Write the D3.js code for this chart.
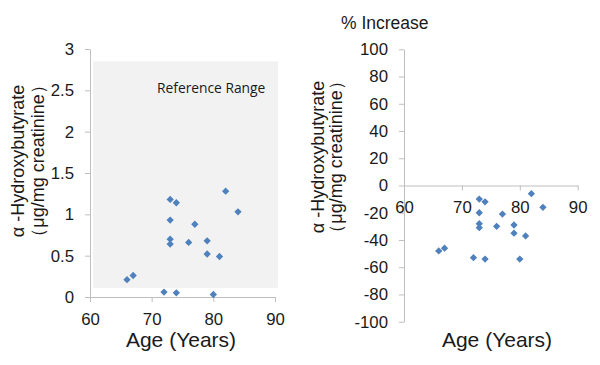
<!DOCTYPE html>
<meta charset="utf-8">
<head>
<style>
  body { margin: 0; background: white; }
  svg { display: block; font-family: "Liberation Sans", Arial, sans-serif; }
  .axis path, .axis line { stroke: #bfbfbf; }
  .axis text { fill: #1a1a1a; font-size: 16.8px; }
</style>
<script src="https://cdn.jsdelivr.net/npm/d3@7"></script>
</head>
<body>
<svg id="chart"></svg>
<script>

// ages of the subjects (same for both panels)
let ages = [66, 67, 72, 73, 73, 73, 73, 74, 74, 76, 77, 79, 79, 80, 81, 82, 84]
// left panel: alpha-hydroxybutyrate (ug/mg creatinine)
let levels = [0.21, 0.26, 0.06, 1.18, 0.93, 0.70, 0.64, 1.14, 0.05, 0.66, 0.88, 0.68, 0.52, 0.03, 0.49, 1.28, 1.03]
// right panel: % increase
let pctIncrease = [-48, -46, -53, -10, -20, -28, -31, -12, -54, -30, -21, -29, -35, -54, -37, -6, -16]

let xTicks = [60, 70, 80, 90]
let leftYTicks = [0, 0.5, 1, 1.5, 2, 2.5, 3]
let rightYTicks = [-100, -80, -60, -40, -20, 0, 20, 40, 60, 80, 100]
let refRange = {x0: 60.5, x1: 90.5, y0: 0.11, y1: 2.85}

let width = 600, height = 365
let svg = d3.select("#chart").attr("width", width).attr("height", height)

let diamond = d3.symbol().type(d3.symbolDiamond2).size(34)
let dotColor = "#4f81bd"

function yTitle(x1, x2, cy) {
  let g = svg.append("g").attr("font-size", 18).attr("fill", "#1a1a1a")
  g.append("text").attr("transform", `translate(${x1},${cy}) rotate(-90)`)
    .attr("text-anchor", "middle").text("α -Hydroxybutyrate")
  g.append("text").attr("transform", `translate(${x2},${cy}) rotate(-90)`)
    .attr("text-anchor", "middle").text("（μg/mg creatinine）")
}

function xTitle(cx) {
  svg.append("text").attr("x", cx).attr("y", 347)
    .attr("text-anchor", "middle").attr("font-size", 21).attr("fill", "#1a1a1a")
    .text("Age (Years)")
}

// ---- left panel ----
let xL = d3.scaleLinear().domain([60, 90]).range([90, 275])
let yL = d3.scaleLinear().domain([0, 3]).range([297, 49])

svg.append("rect")
  .attr("x", xL(refRange.x0)).attr("y", yL(refRange.y1))
  .attr("width", xL(refRange.x1) - xL(refRange.x0))
  .attr("height", yL(refRange.y0) - yL(refRange.y1))
  .attr("fill", "#f2f2f2")

svg.append("text").attr("x", 157).attr("y", 93)
  .attr("font-family", "Open Sans").attr("font-size", 13.8).attr("fill", "#1a1a1a")
  .text("Reference Range")

svg.append("g").attr("class", "axis")
  .attr("transform", `translate(0,${yL(0)})`)
  .call(d3.axisBottom(xL).tickValues(xTicks).tickSize(5).tickSizeOuter(0).tickPadding(11))

svg.append("g").attr("class", "axis")
  .attr("transform", `translate(${xL(60)},0)`)
  .call(d3.axisLeft(yL).tickValues(leftYTicks).tickSize(5).tickSizeOuter(0).tickPadding(11)
    .tickFormat(d3.format("~g")))

svg.append("g").selectAll("path")
  .data(ages.map((a, i) => [a, levels[i]]))
  .enter().append("path")
  .attr("d", diamond)
  .attr("transform", d => `translate(${xL(d[0])},${yL(d[1])})`)
  .attr("fill", dotColor)

yTitle(24, 44, 161)
xTitle(181)

// ---- right panel ----
let xR = d3.scaleLinear().domain([60, 90]).range([404, 577.7])
let yR = d3.scaleLinear().domain([-100, 100]).range([321.7, 49.3])

svg.append("g").attr("class", "axis")
  .attr("transform", `translate(${xR(60)},0)`)
  .call(d3.axisLeft(yR).tickValues(rightYTicks).tickSize(5).tickSizeOuter(0).tickPadding(11))
  .selectAll("text").text(d => d < 0 ? "-" + Math.abs(d) : d)

svg.append("g").attr("class", "axis")
  .attr("transform", `translate(0,${yR(0)})`)
  .call(d3.axisBottom(xR).tickValues(xTicks).tickSize(5).tickSizeOuter(0).tickPadding(11))

svg.append("g").selectAll("path")
  .data(ages.map((a, i) => [a, pctIncrease[i]]))
  .enter().append("path")
  .attr("d", diamond)
  .attr("transform", d => `translate(${xR(d[0])},${yR(d[1])})`)
  .attr("fill", dotColor)

svg.append("text").attr("x", 341).attr("y", 29)
  .attr("font-size", 17.5).attr("fill", "#1a1a1a")
  .text("% Increase")

yTitle(324, 342, 157)
xTitle(497)

</script>
</body>
